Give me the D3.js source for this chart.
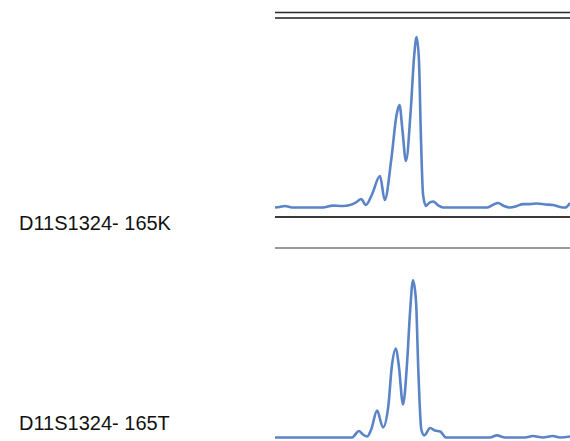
<!DOCTYPE html>
<html><head><meta charset="utf-8">
<script src="https://cdn.jsdelivr.net/npm/d3@7/dist/d3.min.js"></script>
<style>body{margin:0;background:#fff}</style>
</head><body>
<svg id="c" width="570" height="441"></svg>
<script>
// Sample labels
const samples = ["D11S1324- 165K", "D11S1324- 165T"];
// Fragment size (bp) and relative fluorescence, panel 1 (165K)
const size1 = [141,141.8,142.7,143.9,149.1,150.8,152.5,153.7,154.6,155.6,156.4,157.4,158.8,159.6,160.7,161.6,162.1,162.6,163.2,164.0,164.6,165.0,165.4,165.7,166.1,166.6,167.1,167.8,168.6,169.5,176.9,177.9,178.8,179.8,180.8,182.0,183.0,184.2,185.4,186.8,188.1,189.3,190.2,191];
const rfu1  = [0,3,8,0,0,10,8,13,24,45,13,66,166,40,251,488,541,409,245,512,805,900,778,409,66,8,24,32,13,0,0,13,24,8,0,8,18,18,21,16,13,3,0,24];
// panel 2 (165T)
const size2 = [141,154.1,154.6,155.2,155.9,156.6,157.3,158.3,159.3,160.2,160.8,161.5,162.0,162.7,163.4,163.9,164.4,164.9,165.3,165.8,166.3,167.3,168.1,169.0,170.0,177.4,178.6,180.0,183.4,184.7,186.4,188.1,189.3,191];
const rfu2  = [0,0,16,34,16,5,42,142,53,164,375,470,375,175,402,667,830,719,349,42,11,50,37,32,0,0,11,0,0,8,0,8,0,5];
const sizeDomain = [141, 191];
const rfuMax = 1000;

const svg = d3.select("#c");
const x = d3.scaleLinear().domain(sizeDomain).range([275, 570]);
const panels = [
  {top: 18, labelY: 230, label: samples[0], size: size1, rfu: rfu1},
  {top: 248, labelY: 430, label: samples[1], size: size2, rfu: rfu2}
];
const panelH = 199;

// extra top border line of first panel
svg.append("line").attr("x1", x.range()[0]).attr("x2", x.range()[1])
  .attr("y1", 12.5).attr("y2", 12.5).attr("stroke", "#2a2a2a").attr("stroke-width", 1.4);

panels.forEach((p, i) => {
  const y = d3.scaleLinear().domain([0, rfuMax]).range([p.top + 189.5, p.top]);
  svg.append("line").attr("x1", x.range()[0]).attr("x2", x.range()[1])
    .attr("y1", p.top).attr("y2", p.top)
    .attr("stroke", i === 0 ? "#555" : "#777").attr("stroke-width", i === 0 ? 2 : 1.6);
  svg.append("line").attr("x1", x.range()[0]).attr("x2", x.range()[1])
    .attr("y1", p.top + panelH).attr("y2", p.top + panelH)
    .attr("stroke", "#3a3a3a").attr("stroke-width", 2);
  const data = p.size.map((s, k) => [s, p.rfu[k]]);
  const line = d3.line().x(d => x(d[0])).y(d => y(d[1])).curve(d3.curveMonotoneX);
  svg.append("path").datum(data).attr("d", line)
    .attr("fill", "none").attr("stroke", "#5b83c8").attr("stroke-width", 2.6)
    .attr("stroke-linejoin", "round");
  svg.append("text").attr("x", 19).attr("y", p.labelY)
    .attr("font-family", "Liberation Sans, Arial, sans-serif").attr("font-size", 20)
    .attr("fill", "#111").text(p.label);
});
</script>
</body></html>
